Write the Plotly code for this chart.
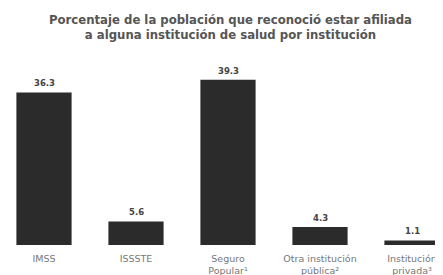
import plotly.graph_objects as go

categories = ["IMSS", "ISSSTE", "Seguro<br>Popular¹", "Otra institución<br>pública²", "Institución<br>privada³"]
values = [36.3, 5.6, 39.3, 4.3, 1.1]
value_labels = ["36.3", "5.6", "39.3", "4.3", "1.1"]
title_text = "Porcentaje de la población que reconoció estar afiliada<br>a alguna institución de salud por institución"

FONT = "DejaVu Sans, Verdana, sans-serif"
xs = list(range(len(categories)))

fig = go.Figure(go.Bar(
    x=xs,
    y=values,
    marker=dict(color="#2b2b2b", line=dict(width=0)),
    width=0.6,
    hoverinfo="skip",
))

for xi, v, lab in zip(xs, values, value_labels):
    fig.add_annotation(
        x=xi, y=v, xref="x", yref="y", text=f"<b>{lab}</b>",
        showarrow=False, yanchor="bottom", yshift=2,
        font=dict(family=FONT, size=8.5, color="#444444"),
    )

fig.add_annotation(
    x=0.5, y=1, xref="paper", yref="paper", xanchor="center", yanchor="bottom",
    yshift=11, xshift=5, showarrow=False, align="center",
    text=f"<b>{title_text}</b>",
    font=dict(family=FONT, size=11.7, color="#555555"),
)

fig.update_layout(
    width=435, height=267,
    margin=dict(l=0, r=0, t=47, b=30),
    paper_bgcolor="white", plot_bgcolor="white",
    showlegend=False,
    font=dict(family=FONT),
)
fig.update_xaxes(
    range=[-0.3913, 4.337],
    tickmode="array", tickvals=xs, ticktext=categories,
    tickfont=dict(size=9.5, color="#777777"),
    ticklabelstandoff=6,
    showgrid=False, zeroline=False, showline=False, ticks="",
)
fig.update_yaxes(range=[0, 45.2], visible=False, showgrid=False, zeroline=False)

fig.write_html("out.html")
